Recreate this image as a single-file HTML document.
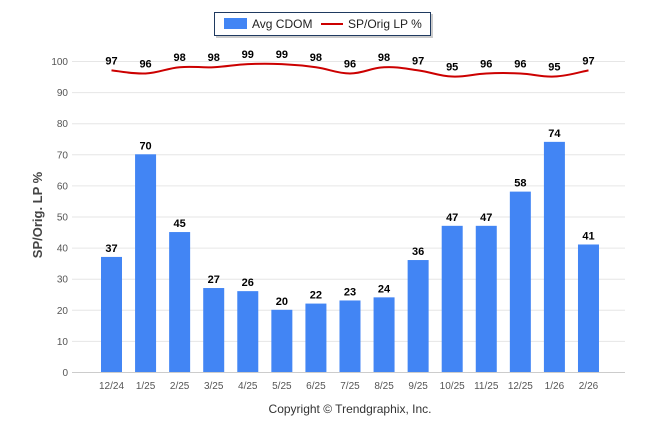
<!DOCTYPE html>
<html><head><meta charset="utf-8"><style>
body{margin:0;background:#fff;}
svg{display:block;font-family:"Liberation Sans",Arial,sans-serif;}
</style></head><body>
<svg id="chart" width="646" height="434" viewBox="0 0 646 434">
  <g>
    <rect x="216" y="14" width="217" height="24" fill="#999" opacity="0.5"/>
    <rect x="214.5" y="12.5" width="216" height="23" fill="#fff" stroke="#1f3a60" stroke-width="1"/>
    <rect x="224" y="18" width="23" height="11" fill="#4285f4"/>
    <text x="252" y="28" font-size="12" fill="#222">Avg CDOM</text>
    <line x1="321" y1="24" x2="343" y2="24" stroke="#cc0000" stroke-width="2"/>
    <text x="348" y="28" font-size="12" fill="#222">SP/Orig LP %</text>
  </g>
  <g id="grid"></g>
  <g id="bars"></g>
  <g id="line"></g>
  <text transform="translate(42,215) rotate(-90)" text-anchor="middle" font-size="13" font-weight="bold" fill="#444">SP/Orig. LP %</text>
  <text x="350" y="413" text-anchor="middle" font-size="12" fill="#333">Copyright © Trendgraphix, Inc.</text>
</svg>
<script>
const categories=["12/24","1/25","2/25","3/25","4/25","5/25","6/25","7/25","8/25","9/25","10/25","11/25","12/25","1/26","2/26"];
const cdomValues=[37,70,45,27,26,20,22,23,24,36,47,47,58,74,41];
const spValues=[97,96,98,98,99,99,98,96,98,97,95,96,96,95,97];
const yTicks=[0,10,20,30,40,50,60,70,80,90,100];
const NS="http://www.w3.org/2000/svg";
const y0=372,yScale=3.11,x0=111.5,dx=34.07,left=72,right=625;
const yPos=v=>y0-v*yScale;
const xPos=i=>x0+i*dx;
function mk(tag,attrs,parent){const e=document.createElementNS(NS,tag);for(const k in attrs)e.setAttribute(k,attrs[k]);parent.appendChild(e);return e;}
const grid=document.getElementById('grid');
yTicks.forEach(t=>{
  const l=mk('line',{x1:left,x2:right,y1:yPos(t)+0.5,y2:yPos(t)+0.5,stroke:t===0?'#ccc':'#e6e6e6','stroke-width':1},grid);
  
  
  const tx=mk('text',{x:68,y:yPos(t)+4,'text-anchor':'end','font-size':10,fill:'#555'},grid);
  tx.textContent=t;
  
  
});
const bars=document.getElementById('bars');
categories.forEach((c,i)=>{
  const v=cdomValues[i];
  const r=mk('rect',{x:xPos(i)-10.5,y:yPos(v),width:21,height:v*yScale,fill:'#4285f4'},bars);
  
  
  const lb=mk('text',{x:xPos(i),y:yPos(v)-5,'text-anchor':'middle','font-size':11,'font-weight':'bold',fill:'#000'},bars);
  lb.textContent=v;
  
  
  const xl=mk('text',{x:xPos(i),y:389,'text-anchor':'middle','font-size':10,fill:'#555'},bars);
  xl.textContent=c;
  
  
});
const lg=document.getElementById('line');
const pts=spValues.map((v,i)=>[xPos(i),yPos(v)]);
let d='M'+pts[0][0]+','+pts[0][1];
for(let i=0;i<pts.length-1;i++){
  const p0=pts[Math.max(0,i-1)],p1=pts[i],p2=pts[i+1],p3=pts[Math.min(pts.length-1,i+2)];
  const t=0.2;
  const c1=[p1[0]+(p2[0]-p0[0])*t,p1[1]+(p2[1]-p0[1])*t];
  const c2=[p2[0]-(p3[0]-p1[0])*t,p2[1]-(p3[1]-p1[1])*t];
  d+=' C'+c1+' '+c2+' '+p2;
}
const path=mk('path',{d:d,fill:'none',stroke:'#cc0000','stroke-width':2},lg);


spValues.forEach((v,i)=>{
  const lb=mk('text',{x:xPos(i),y:yPos(v)-6,'text-anchor':'middle','font-size':11,'font-weight':'bold',fill:'#000'},lg);
  lb.textContent=v;
  
  
});
</script>
</body></html>
